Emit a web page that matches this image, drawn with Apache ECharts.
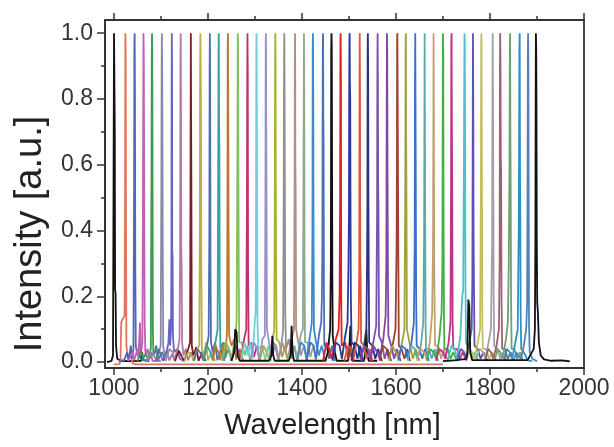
<!DOCTYPE html>
<html><head><meta charset="utf-8">
<script src="https://cdn.jsdelivr.net/npm/echarts@6/dist/echarts.min.js"></script>
<style>html,body{margin:0;padding:0;background:#fff}#c{width:614px;height:447px}</style>
</head><body><div id="c"></div>
<script>
// Tick positions and labels
const xMajorTicks = [1000, 1200, 1400, 1600, 1800, 2000];
const xMinorTicks = [1100, 1300, 1500, 1700, 1900];
const yMajorTicks = [0, 0.2, 0.4, 0.6, 0.8, 1.0];
const yMinorTicks = [0.1, 0.3, 0.5, 0.7, 0.9];

// Peak wavelengths (nm) of the 46 normalised spectra
const peakWavelengths = [1001,1024,1044,1063,1081,1102,1123,1142,1164,1184,1204,1223,1242,1264,1284,1303,1323,1343,1362,1385,1404,1423,1445,1463,1482,1501,1523,1540,1561,1581,1603,1621,1641,1661,1680,1700,1718,1746,1764,1782,1806,1822,1843,1864,1881,1898];

const spectrumColors = [
'#111111','#e0775c','#5566b8','#c45fb5','#3a9a50','#8a88a8','#6565c5','#b07aa8','#7a1f2a','#b8b040',
'#4f6fb0','#3aa0a0','#b87830','#80c060','#c03070','#70d0d8','#9890c8','#a8b030','#909090','#b09080',
'#8fa890','#3a8ad0','#4a70b8','#111111','#e02020','#2a3a98','#e05535','#303080','#7a50b0','#8545a5',
'#a04030','#a0a040','#3a70c8','#60a8a8','#c0a070','#40b040','#c03090','#50c0c8','#6050b0','#c0c060',
'#a0a0a8','#a06070','#70a070','#2a90c8','#5080c0','#111111'];

// Each spectrum: flat list of wavelength, intensity pairs
const s01 = [985,0, 995,0.004, 998,0.02, 999.3,0.6, 1000.2,1.0, 1001,1.0, 1001.8,0.7, 1002.4,0.22, 1003.5,0.21, 1004.5,0.05, 1007,0.01, 1015,0.004, 1030,0.003, 1058,0.004, 1060,0.03, 1062,0.006, 1075,0.004];
const s02 = [1000,-0.007, 1012,-0.006, 1014,0.004, 1015.5,0.12, 1018,0.13, 1021,0.135, 1022.6,0.14, 1023.6,0.5, 1024.3,1.0, 1025,0.95, 1025.7,0.4, 1026.5,0.05, 1030,0.01, 1036,0.02, 1040,-0.004, 1045,-0.007, 1700,-0.007];
const s03 = [1010,0.003, 1022,0.006, 1028,0.03, 1031,0.005, 1036,0.05, 1038,0.01, 1041.5,0.04, 1042.8,0.5, 1043.5,0.97, 1044.1,1.0, 1044.7,0.82, 1045.4,0.3, 1046.5,0.05, 1050,0.02, 1053,0.035, 1057,0.008, 1070,0.004, 1087,0.03, 1090,0.05, 1094,0.004];
const s04 = [1030,0.003, 1040,0.03, 1043,0.005, 1050,0.04, 1052,0.015, 1054,0.02, 1055.5,0.12, 1057,0.02, 1060.5,0.06, 1061.6,0.42, 1062.3,0.78, 1062.8,1.0, 1063.4,0.95, 1063.9,0.77, 1064.6,0.42, 1065.4,0.12, 1067,0.02, 1072,0.04, 1075,0.01, 1078,0.03, 1082,0.004, 1100,0.003];
const s05 = [1050,0.003, 1058,0.035, 1062,0.01, 1068,0.025, 1073,0.005, 1078.5,0.04, 1079.8,0.55, 1080.5,0.93, 1081,1.0, 1081.5,0.95, 1082.1,0.6, 1082.8,0.1, 1084,0.02, 1090,0.04, 1095,0.008, 1102,0.03, 1110,0.004];
const s06 = [1070,0.003, 1078,0.03, 1085,0.02, 1090,0.006, 1096,0.03, 1099.5,0.05, 1100.8,0.5, 1101.5,0.9, 1102,1.0, 1102.6,0.88, 1103.1,0.73, 1103.8,0.35, 1104.8,0.05, 1108,0.015, 1112,0.035, 1118,0.005, 1124,0.025, 1130,0.003];
const s07 = [1090,0.003, 1095,0.04, 1100,0.02, 1104,0.004, 1112,0.03, 1116,0.06, 1118,0.13, 1119.5,0.05, 1121.5,0.1, 1122.3,0.33, 1122.7,0.8, 1123.1,1.0, 1123.6,0.9, 1124,0.34, 1124.8,0.32, 1125.5,0.08, 1128,0.03, 1135,0.04, 1140,0.01, 1150,0.003];
const s08 = [1110,0.004, 1118,0.04, 1125,0.03, 1128,0.006, 1136,0.04, 1139.5,0.07, 1140.8,0.33, 1141.5,0.9, 1142,1.0, 1142.6,0.8, 1143.2,0.34, 1144,0.3, 1145,0.06, 1148,0.02, 1153,0.04, 1158,0.005, 1164,0.03, 1170,0.003];
const s09 = [1130,0.003, 1138,0.035, 1145,0.015, 1150,0.004, 1158,0.04, 1162,0.06, 1163,0.6, 1163.6,1.0, 1164.2,1.0, 1164.8,0.5, 1165.6,0.05, 1169,0.02, 1175,0.045, 1180,0.004, 1188,0.03, 1195,0.003];
const s10 = [1150,0.003, 1158,0.03, 1165,0.02, 1170,0.004, 1177,0.04, 1181.5,0.05, 1182.8,0.42, 1183.4,0.88, 1183.9,1.0, 1184.5,0.9, 1185.1,0.8, 1185.8,0.3, 1187,0.04, 1191,0.02, 1196,0.06, 1200,0.006, 1208,0.03, 1215,0.003];
const s11 = [1170,0.004, 1178,0.04, 1185,0.025, 1190,0.005, 1198,0.05, 1201.5,0.08, 1203,0.4, 1203.6,0.9, 1204.1,1.0, 1204.7,0.86, 1205.4,0.3, 1206.5,0.06, 1210,0.03, 1215,0.06, 1220,0.006, 1228,0.04, 1235,0.003];
const s12 = [1190,0.003, 1198,0.05, 1205,0.03, 1210,0.006, 1216,0.06, 1220.5,0.1, 1222,0.65, 1222.6,0.95, 1223.1,1.0, 1223.7,0.7, 1224.3,0.66, 1225,0.2, 1226.5,0.04, 1232,0.06, 1236,0.01, 1244,0.04, 1250,0.003];
const s13 = [1210,0.004, 1216,0.05, 1222,0.03, 1226,0.006, 1234,0.06, 1238,0.02, 1240.5,0.1, 1241.5,0.5, 1242,0.95, 1242.5,1.0, 1243.1,0.78, 1243.8,0.43, 1245,0.08, 1250,0.05, 1256,0.07, 1260,0.008, 1268,0.04, 1275,0.003];
const s14 = [1230,0.004, 1238,0.06, 1245,0.04, 1250,0.01, 1256,0.06, 1261,0.12, 1262.8,0.7, 1263.5,1.0, 1264.1,0.95, 1264.7,0.6, 1265.5,0.3, 1266.5,0.06, 1272,0.06, 1278,0.02, 1284,0.05, 1290,0.003];
const s15 = [1250,0.004, 1258,0.05, 1265,0.03, 1270,0.008, 1277,0.07, 1281.5,0.1, 1283,0.5, 1283.6,0.87, 1284.1,1.0, 1284.7,0.88, 1285.3,0.3, 1286.5,0.05, 1292,0.06, 1298,0.015, 1304,0.05, 1310,0.003];
const s16 = [1270,0.004, 1278,0.06, 1285,0.02, 1290,0.06, 1295,0.01, 1300,0.13, 1301.5,0.15, 1302.4,0.52, 1302.9,0.95, 1303.4,1.0, 1304,0.85, 1304.6,0.5, 1305.4,0.12, 1307,0.04, 1315,0.05, 1322,0.006, 1328,0.05, 1335,0.003];
const s17 = [1290,0.004, 1298,0.06, 1305,0.04, 1310,0.01, 1316,0.07, 1321,0.08, 1322.3,0.5, 1322.9,0.97, 1323.4,1.0, 1324,0.72, 1324.6,0.5, 1325.5,0.1, 1330,0.06, 1336,0.02, 1343,0.05, 1350,0.003];
const s18 = [1310,0.004, 1318,0.05, 1325,0.03, 1330,0.01, 1337,0.06, 1341,0.1, 1342.2,0.45, 1342.8,0.9, 1343.3,1.0, 1343.9,0.9, 1344.4,0.5, 1345,0.3, 1346,0.07, 1352,0.06, 1358,0.015, 1364,0.05, 1370,0.003];
const s19 = [1330,0.004, 1338,0.06, 1345,0.05, 1350,0.01, 1356,0.05, 1360,0.1, 1361.4,0.58, 1362,0.95, 1362.5,1.0, 1363.1,0.8, 1363.7,0.5, 1364.5,0.15, 1366,0.04, 1372,0.07, 1378,0.01, 1384,0.05, 1390,0.003];
const s20 = [1350,0.004, 1358,0.06, 1365,0.03, 1370,0.01, 1378,0.07, 1383,0.1, 1384.3,0.52, 1384.9,0.95, 1385.4,1.0, 1386,0.6, 1386.6,0.52, 1387.5,0.1, 1392,0.06, 1398,0.02, 1404,0.05, 1410,0.003];
const s21 = [1370,0.004, 1378,0.05, 1385,0.04, 1390,0.01, 1397,0.08, 1402,0.1, 1403.3,0.6, 1403.8,0.8, 1404.3,1.0, 1404.9,0.8, 1405.5,0.3, 1406.5,0.06, 1412,0.06, 1418,0.015, 1424,0.05, 1430,0.003];
const s22 = [1390,0.004, 1398,0.06, 1405,0.05, 1410,0.01, 1416,0.07, 1421,0.12, 1422.3,0.4, 1422.9,0.95, 1423.4,1.0, 1424,0.8, 1424.6,0.4, 1425.5,0.1, 1430,0.06, 1436,0.02, 1442,0.05, 1450,0.003];
const s23 = [1410,0.004, 1418,0.06, 1425,0.05, 1430,0.01, 1436,0.08, 1441,0.12, 1442.5,0.2, 1443.3,0.32, 1443.9,0.7, 1444.4,0.97, 1444.9,1.0, 1445.4,0.75, 1446,0.68, 1446.7,0.25, 1447.5,0.05, 1452,0.05, 1458,0.01, 1464,0.05, 1470,0.003];
const s24 = [1250,0.004, 1256,0.03, 1258,0.1, 1261,0.09, 1263,0.02, 1268,0.004, 1330,0.004, 1335,0.02, 1337,0.08, 1339,0.02, 1342,0.004, 1372,0.004, 1376,0.02, 1378,0.11, 1380,0.03, 1383,0.004, 1450,0.004, 1455,0.03, 1460,0.1, 1461.5,0.3, 1462.2,0.95, 1462.8,1.0, 1463.4,0.96, 1464,0.6, 1464.6,0.27, 1465.5,0.08, 1470,0.03, 1474,0.004, 1498,0.004, 1500,0.02, 1503,0.11, 1505,0.02, 1508,0.004, 1532,0.004, 1535,0.03, 1537,0.1, 1539,0.02, 1542,0.004, 1560,0.004];
const s25 = [1445,0.004, 1452,0.06, 1458,0.04, 1463,0.01, 1472,0.07, 1478,0.1, 1480,0.2, 1481.2,0.5, 1481.8,0.97, 1482.3,1.0, 1482.9,0.85, 1483.5,0.2, 1484.5,0.05, 1492,0.06, 1498,0.01, 1504,0.05, 1510,0.003];
const s26 = [1465,0.004, 1472,0.06, 1480,0.05, 1485,0.01, 1492,0.08, 1497,0.12, 1499,0.3, 1500,0.45, 1500.5,0.8, 1501,0.98, 1501.5,1.0, 1502,0.85, 1502.7,0.8, 1503.3,0.45, 1504,0.2, 1505.5,0.06, 1512,0.05, 1518,0.01, 1524,0.05, 1530,0.003];
const s27 = [1490,0.004, 1498,0.05, 1505,0.04, 1510,0.01, 1516,0.06, 1520.5,0.1, 1521.8,0.28, 1522.4,0.8, 1522.9,1.0, 1523.5,0.82, 1524.1,0.3, 1524.8,0.27, 1525.8,0.06, 1532,0.05, 1538,0.01, 1544,0.04, 1550,0.003];
const s28 = [1505,0.004, 1512,0.06, 1520,0.05, 1525,0.01, 1532,0.05, 1537,0.1, 1538.5,0.3, 1539.2,0.48, 1539.7,0.95, 1540.2,1.0, 1540.8,0.9, 1541.4,0.48, 1542,0.28, 1543,0.06, 1550,0.05, 1556,0.01, 1562,0.04, 1570,0.003];
const s29 = [1525,0.004, 1532,0.05, 1540,0.04, 1545,0.01, 1553,0.07, 1558,0.11, 1559.8,0.45, 1560.4,0.87, 1560.9,1.0, 1561.5,0.85, 1562.1,0.55, 1562.8,0.45, 1563.8,0.08, 1570,0.06, 1576,0.01, 1582,0.04, 1590,0.003];
const s30 = [1545,0.004, 1552,0.05, 1560,0.03, 1565,0.01, 1573,0.07, 1578,0.14, 1579.5,0.3, 1580.3,0.75, 1580.8,1.0, 1581.4,0.95, 1582,0.6, 1582.8,0.3, 1583.8,0.08, 1590,0.05, 1596,0.01, 1602,0.04, 1610,0.003];
const s31 = [1565,0.004, 1572,0.05, 1580,0.04, 1585,0.01, 1594,0.06, 1599,0.1, 1601.3,0.35, 1602,0.6, 1602.5,0.98, 1603,1.0, 1603.6,0.8, 1604.2,0.6, 1604.9,0.35, 1606,0.05, 1612,0.04, 1618,0.01, 1624,0.04, 1630,0.003];
const s32 = [1585,0.004, 1592,0.05, 1600,0.03, 1605,0.01, 1613,0.06, 1618,0.1, 1619.8,0.55, 1620.5,0.97, 1621,1.0, 1621.6,0.7, 1622.3,0.5, 1623.2,0.1, 1630,0.05, 1636,0.01, 1642,0.04, 1650,0.003];
const s33 = [1605,0.004, 1612,0.05, 1620,0.04, 1625,0.01, 1633,0.06, 1638,0.12, 1639.8,0.35, 1640.4,0.82, 1641,1.0, 1641.6,0.78, 1642.2,0.52, 1642.9,0.2, 1644,0.05, 1650,0.04, 1656,0.01, 1662,0.04, 1670,0.003];
const s34 = [1625,0.004, 1632,0.05, 1640,0.04, 1645,0.01, 1653,0.05, 1658,0.12, 1659.8,0.38, 1660.4,0.65, 1661,1.0, 1661.6,0.68, 1662.2,0.4, 1663,0.12, 1664,0.04, 1670,0.04, 1676,0.01, 1682,0.04, 1690,0.003];
const s35 = [1645,0.004, 1652,0.04, 1660,0.03, 1665,0.01, 1672,0.06, 1677,0.15, 1678.8,0.35, 1679.5,0.7, 1680,1.0, 1680.6,0.72, 1681.3,0.3, 1682,0.2, 1683,0.05, 1690,0.05, 1696,0.01, 1702,0.04, 1710,0.003];
const s36 = [1665,0.004, 1672,0.04, 1680,0.03, 1685,0.01, 1692,0.07, 1697,0.15, 1698.8,0.3, 1699.5,0.8, 1700,1.0, 1700.6,0.95, 1701.2,0.5, 1702,0.15, 1703,0.04, 1710,0.04, 1716,0.01, 1722,0.03, 1730,0.003];
const s37 = [1685,0.004, 1692,0.04, 1700,0.03, 1705,0.01, 1712,0.06, 1716,0.12, 1717.2,0.55, 1717.8,0.98, 1718.3,1.0, 1718.9,0.72, 1719.6,0.55, 1720.5,0.12, 1722,0.04, 1730,0.04, 1736,0.01, 1742,0.03, 1750,0.003];
const s38 = [1710,0.004, 1718,0.05, 1725,0.04, 1730,0.01, 1737,0.08, 1741,0.2, 1743,0.22, 1744.5,0.6, 1745.2,0.85, 1745.8,1.0, 1746.4,0.97, 1747,0.65, 1747.8,0.25, 1749,0.06, 1756,0.04, 1762,0.01, 1768,0.03, 1775,0.003];
const s39 = [1730,0.004, 1738,0.04, 1745,0.03, 1750,0.01, 1756,0.06, 1761,0.1, 1762.5,0.25, 1763.2,0.65, 1763.8,1.0, 1764.4,0.8, 1765,0.42, 1765.8,0.25, 1767,0.05, 1774,0.04, 1780,0.01, 1786,0.03, 1795,0.003];
const s40 = [1750,0.004, 1756,0.04, 1762,0.03, 1767,0.01, 1774,0.06, 1779,0.1, 1780.6,0.5, 1781.3,0.97, 1781.8,1.0, 1782.4,0.78, 1783,0.5, 1783.8,0.1, 1785,0.04, 1792,0.04, 1798,0.01, 1805,0.03, 1812,0.003];
const s41 = [1770,0.004, 1778,0.04, 1785,0.03, 1790,0.01, 1797,0.06, 1802,0.1, 1804.5,0.35, 1805.2,0.75, 1805.8,1.0, 1806.4,0.8, 1807,0.55, 1807.8,0.2, 1809,0.05, 1815,0.04, 1822,0.01, 1828,0.03, 1835,0.003];
const s42 = [1790,0.004, 1796,0.04, 1802,0.03, 1807,0.01, 1814,0.05, 1819,0.1, 1820.5,0.3, 1821.2,0.9, 1821.7,1.0, 1822.3,0.92, 1823,0.62, 1823.7,0.58, 1824.5,0.2, 1826,0.04, 1832,0.04, 1838,0.01, 1844,0.03, 1850,0.003];
const s43 = [1810,0.004, 1816,0.04, 1822,0.03, 1827,0.01, 1834,0.07, 1838,0.12, 1840,0.3, 1841.5,0.6, 1842.2,0.95, 1842.8,1.0, 1843.4,0.7, 1844,0.55, 1844.8,0.2, 1846,0.04, 1852,0.04, 1858,0.01, 1864,0.03, 1870,0.003];
const s44 = [1830,0.004, 1836,0.04, 1842,0.03, 1847,0.01, 1854,0.06, 1859,0.1, 1861.5,0.45, 1862.5,0.95, 1863.2,1.0, 1863.8,0.6, 1864.4,0.45, 1865.2,0.15, 1866.5,0.04, 1872,0.03, 1880,0.005, 1890,0.003];
const s45 = [1850,0.004, 1856,0.03, 1860,0.02, 1866,0.01, 1872,0.05, 1877,0.1, 1879,0.18, 1880,0.6, 1880.6,0.96, 1881.1,1.0, 1881.7,0.9, 1882.3,0.5, 1883,0.12, 1884.5,0.03, 1890,0.01, 1900,0.003];
const s46 = [1700,0.003, 1730,0.006, 1750,0.01, 1752,0.03, 1754,0.19, 1756,0.17, 1758,0.03, 1762,0.006, 1790,0.006, 1880,0.006, 1893,0.04, 1895.5,0.1, 1896.6,0.37, 1897.2,0.8, 1897.7,1.0, 1898.3,0.95, 1898.9,0.78, 1899.5,0.37, 1900.5,0.18, 1902,0.15, 1904,0.06, 1908,0.02, 1915,0.008, 1930,0.004, 1950,0.005, 1960,0.004, 1970,0.002];

const spectra = [s01,s02,s03,s04,s05,s06,s07,s08,s09,s10,s11,s12,s13,s14,s15,s16,s17,s18,s19,s20,s21,s22,s23,s24,s25,s26,s27,s28,s29,s30,s31,s32,s33,s34,s35,s36,s37,s38,s39,s40,s41,s42,s43,s44,s45,s46];

function toPairs(flat) {
  const out = [];
  for (let i = 0; i < flat.length; i += 2) out.push([flat[i], flat[i + 1]]);
  return out;
}

const FONT = '"Liberation Sans", Arial, sans-serif';
const AX = '#333333';
const X_MIN = 981, X_MAX = 2000, Y_MIN = -0.018, Y_MAX = 1.04;

function xAx(pos, ticks, len, extra) {
  return Object.assign({
    type: 'value', position: pos, min: X_MIN, max: X_MAX,
    axisLine: { show: true, onZero: false, lineStyle: { color: AX, width: 1.8 } },
    axisTick: { show: true, inside: false, length: len, customValues: ticks, lineStyle: { color: AX, width: 1.5 } },
    axisLabel: { show: false },
    splitLine: { show: false }
  }, extra || {});
}
function yAx(pos, ticks, len, extra) {
  return Object.assign({
    type: 'value', position: pos, min: Y_MIN, max: Y_MAX,
    axisLine: { show: true, onZero: false, lineStyle: { color: AX, width: 1.8 } },
    axisTick: ticks ? { show: true, inside: false, length: len, customValues: ticks, lineStyle: { color: AX, width: 1.5 } } : { show: false },
    axisLabel: { show: false },
    splitLine: { show: false }
  }, extra || {});
}

const chart = echarts.init(document.getElementById('c'), null, { renderer: 'canvas' });
chart.setOption({
  animation: false,
  backgroundColor: '#ffffff',
  grid: { left: 105, right: 30, top: 20, bottom: 79, containLabel: false, outerBoundsMode: 'none' },
  xAxis: [
    xAx('bottom', xMajorTicks, 7, {
      axisLabel: { show: true, customValues: xMajorTicks, formatter: v => String(v), fontSize: 23, color: '#333', margin: 9, fontFamily: FONT },
      name: 'Wavelength [nm]', nameLocation: 'middle', nameGap: 43,
      nameTextStyle: { fontSize: 29, color: '#222', fontFamily: FONT, padding: [0, 24, 0, 0] }
    }),
    xAx('bottom', xMinorTicks, 4),
    xAx('top', xMajorTicks, 7),
    xAx('top', xMinorTicks, 4)
  ],
  yAxis: [
    yAx('left', yMajorTicks, 8, {
      axisLabel: { show: true, customValues: yMajorTicks, formatter: v => Number(v).toFixed(1), fontSize: 23, color: '#333', margin: 12, fontFamily: FONT },
      name: 'Intensity [a.u.]', nameLocation: 'middle', nameGap: 55, nameRotate: 90,
      nameTextStyle: { fontSize: 38, color: '#222', fontFamily: FONT, padding: [0, 80, 0, 0] }
    }),
    yAx('left', yMinorTicks, 4),
    yAx('right', null, 0)
  ],
  series: spectra.map((s, i) => ({
    type: 'line',
    name: peakWavelengths[i] + ' nm',
    xAxisIndex: 0, yAxisIndex: 0,
    data: toPairs(s),
    showSymbol: false,
    silent: true,
    lineStyle: { color: spectrumColors[i], width: 1.8 },
    itemStyle: { color: spectrumColors[i] },
    z: 2
  }))
});
</script></body></html>
